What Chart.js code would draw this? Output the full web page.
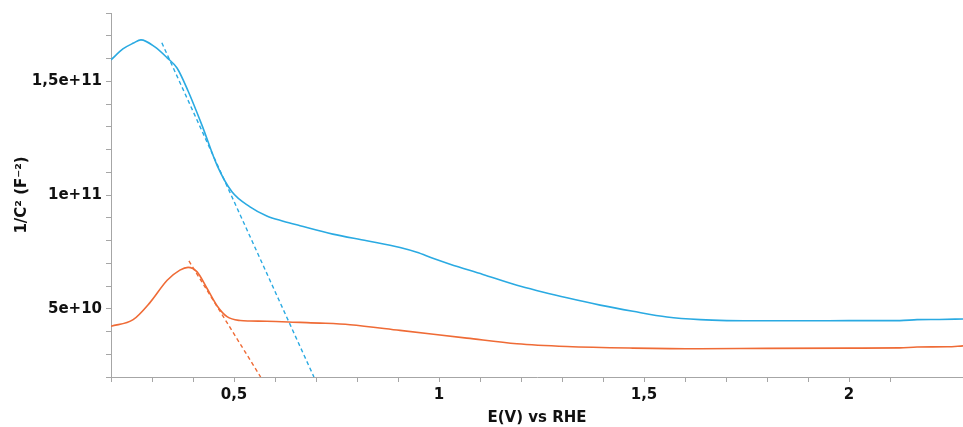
<!DOCTYPE html>
<html>
<head>
<meta charset="utf-8">
<script src="https://cdn.jsdelivr.net/npm/chart.js@4/dist/chart.umd.min.js"></script>
<style>
  html, body { margin: 0; padding: 0; background: #ffffff; }
  #wrap { width: 963px; height: 427px; }
</style>
</head>
<body>
<div id="wrap"><canvas id="c" width="963" height="427"></canvas></div>
<script>
// Mott-Schottky data: potential E (V vs RHE) and 1/C^2 (F^-2)
const blueE = [0.200, 0.229, 0.255, 0.273, 0.307, 0.337, 0.361, 0.388, 0.422, 0.459, 0.495, 0.539,
  0.580, 0.620, 0.661, 0.741, 0.824, 0.905, 0.946, 0.985, 1.027, 1.107, 1.190, 1.250, 1.312,
  1.393, 1.473, 1.556, 1.637, 1.702, 1.800, 1.900, 2.000, 2.124, 2.166, 2.220, 2.278];
const blueInvC2 = [15.94e10, 16.42e10, 16.68e10, 16.82e10, 16.51e10, 16.03e10, 15.58e10, 14.57e10,
  13.06e10, 11.29e10, 10.14e10, 9.48e10, 9.08e10, 8.85e10, 8.65e10, 8.28e10, 7.99e10, 7.69e10,
  7.48e10, 7.22e10, 6.96e10, 6.51e10, 6.03e10, 5.75e10, 5.48e10, 5.16e10, 4.89e10, 4.64e10,
  4.52e10, 4.48e10, 4.47e10, 4.47e10, 4.48e10, 4.48e10, 4.52e10, 4.53e10, 4.55e10];

const orangeE = [0.200, 0.254, 0.295, 0.337, 0.368, 0.388, 0.410, 0.434, 0.459, 0.483, 0.515, 0.539,
  0.580, 0.661, 0.710, 0.783, 0.905, 1.068, 1.190, 1.312, 1.473, 1.637, 1.800, 2.000, 2.124,
  2.166, 2.240, 2.278];
const orangeInvC2 = [4.23e10, 4.52e10, 5.27e10, 6.25e10, 6.70e10, 6.82e10, 6.62e10, 5.90e10, 5.12e10,
  4.65e10, 4.48e10, 4.46e10, 4.45e10, 4.40e10, 4.37e10, 4.30e10, 4.05e10, 3.71e10, 3.46e10,
  3.34e10, 3.27e10, 3.24e10, 3.26e10, 3.27e10, 3.28e10, 3.32e10, 3.33e10, 3.37e10];

// Linear fits of the depletion region (dashed)
const blueFitE = [0.324, 0.695];
const blueFitInvC2 = [16.69e10, 2.0e10];
const orangeFitE = [0.390, 0.565];
const orangeFitInvC2 = [7.1e10, 2.0e10];

const xMin = 0.2, xMax = 2.278, xStep = 0.1;
const yMin = 2e10, yMax = 1.8e11, yStep = 1e10;

const BLUE = '#2aaae2';
const ORANGE = '#ef6b36';
const AXIS = '#a6a6a6';

const toPts = (xs, ys) => xs.map((x, i) => ({ x, y: ys[i] }));

function fmtX(v) {
  return String(+v.toFixed(1)).replace('.', ',');
}
function fmtY(v) {
  const e = Math.floor(Math.log10(v) + 1e-9);
  const m = +(v / Math.pow(10, e)).toFixed(2);
  return String(m).replace('.', ',') + 'e+' + e;
}
const isMultiple = (v, step) => Math.abs(v / step - Math.round(v / step)) < 1e-6;

const tickFont = { family: '"DejaVu Sans", Verdana, sans-serif', size: 15, weight: 'bold' };

new Chart(document.getElementById('c'), {
  type: 'line',
  data: {
    datasets: [
      { data: toPts(blueE, blueInvC2), borderColor: BLUE, borderWidth: 1.6, cubicInterpolationMode: 'monotone', pointRadius: 0 },
      { data: toPts(orangeE, orangeInvC2), borderColor: ORANGE, borderWidth: 1.6, cubicInterpolationMode: 'monotone', pointRadius: 0 },
      { data: toPts(blueFitE, blueFitInvC2), borderColor: BLUE, borderWidth: 1.4, borderDash: [4, 3], pointRadius: 0 },
      { data: toPts(orangeFitE, orangeFitInvC2), borderColor: ORANGE, borderWidth: 1.4, borderDash: [4, 3], pointRadius: 0 }
    ]
  },
  options: {
    responsive: false,
    animation: false,
    layout: { padding: { top: 13, right: 0, left: 0, bottom: 0 } },
    plugins: { legend: { display: false }, tooltip: { enabled: false } },
    scales: {
      x: {
        type: 'linear',
        min: xMin, max: xMax,
        afterBuildTicks: s => { s.ticks = s.ticks.filter(t => isMultiple(t.value, xStep)); },
        afterFit: s => { s.height = 50; },
        border: { display: true, color: AXIS, width: 1 },
        grid: { drawOnChartArea: false, drawTicks: true, tickLength: 5, color: AXIS },
        ticks: {
          stepSize: xStep, autoSkip: false, maxRotation: 0, padding: 4,
          color: '#111', font: tickFont,
          callback: v => isMultiple(v, 0.5) ? fmtX(v) : ''
        },
        title: { display: true, text: 'E(V) vs RHE', color: '#111', font: tickFont, padding: { top: 0, bottom: 0 } }
      },
      y: {
        type: 'linear',
        min: yMin, max: yMax,
        afterBuildTicks: s => { s.ticks = s.ticks.filter(t => isMultiple(t.value, yStep)); },
        afterFit: s => { s.width = 111; },
        border: { display: true, color: AXIS, width: 1 },
        grid: { drawOnChartArea: false, drawTicks: true, tickLength: 5, color: AXIS },
        ticks: {
          stepSize: yStep, autoSkip: false, padding: 4,
          color: '#111', font: tickFont,
          callback: v => isMultiple(v, 5e10) ? fmtY(v) : ''
        },
        title: { display: true, text: '1/C\u00b2 (F\u207b\u00b2)', color: '#111', font: tickFont, padding: { top: 13, bottom: 0 } }
      }
    }
  }
});
</script>
</body>
</html>
